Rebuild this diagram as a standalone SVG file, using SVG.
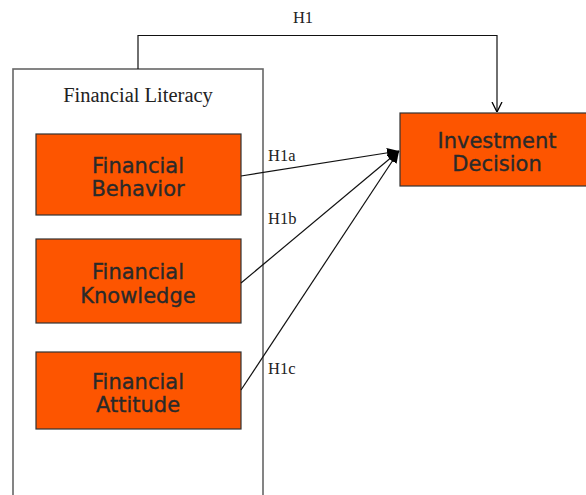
<svg xmlns="http://www.w3.org/2000/svg" width="586" height="495" viewBox="0 0 586 495">
  <defs>
    <marker id="solid" viewBox="0 0 12 10" refX="12" refY="5" markerWidth="12" markerHeight="10" markerUnits="userSpaceOnUse" orient="auto">
      <path d="M0,0 L12,5 L0,10 Z" fill="#000"/>
    </marker>
    <marker id="open" viewBox="0 0 10 12" refX="10" refY="6" markerWidth="10" markerHeight="12" markerUnits="userSpaceOnUse" orient="auto">
      <path d="M0,1 L10,6 L0,11" fill="none" stroke="#000" stroke-width="1.3"/>
    </marker>
    <style>
      .box { fill: #fd5500; stroke: #333; stroke-width: 1.2; }
      .boxtxt { font-family: "DejaVu Sans", "Noto Sans", sans-serif; font-size: 21px; fill: #2a2a2a; stroke: #2a2a2a; stroke-width: 0.35; text-anchor: middle; }
      .lbl { font-family: "Liberation Serif", "Times New Roman", serif; font-size: 16.5px; fill: #222; }
      .edge { fill: none; stroke: #111; stroke-width: 1.2; }
    </style>
  </defs>
  <rect width="586" height="495" fill="#fff"/>

  <!-- container -->
  <g id="financial-literacy">
    <rect x="13" y="69" width="250" height="440" fill="#fff" stroke="#666" stroke-width="1.6"/>
    <text x="138" y="102" class="lbl" style="font-size:20.5px" text-anchor="middle">Financial Literacy</text>
  </g>

  <g id="financial-behavior">
    <rect x="36" y="134" width="205" height="81" class="box"/>
    <text x="138" y="173" class="boxtxt">Financial</text>
    <text x="138" y="196" class="boxtxt">Behavior</text>
  </g>

  <g id="financial-knowledge">
    <rect x="36" y="239" width="205" height="84" class="box"/>
    <text x="138" y="279" class="boxtxt">Financial</text>
    <text x="138" y="303" class="boxtxt">Knowledge</text>
  </g>

  <g id="financial-attitude">
    <rect x="36" y="352" width="205" height="77" class="box"/>
    <text x="138" y="389" class="boxtxt">Financial</text>
    <text x="138" y="412" class="boxtxt">Attitude</text>
  </g>

  <g id="investment-decision">
    <rect x="400" y="113" width="190" height="73" class="box"/>
    <text x="497" y="148" class="boxtxt">Investment</text>
    <text x="497" y="171" class="boxtxt">Decision</text>
  </g>

  <g id="connectors">
    <path class="edge" d="M138,69 V35.5 H497 V112" marker-end="url(#open)"/>
    <line class="edge" x1="241" y1="176" x2="399" y2="151" marker-end="url(#solid)"/>
    <line class="edge" x1="241" y1="283" x2="399" y2="151" marker-end="url(#solid)"/>
    <line class="edge" x1="241" y1="390" x2="399" y2="151" marker-end="url(#solid)"/>
    <text x="303" y="23" class="lbl" text-anchor="middle">H1</text>
    <text x="268" y="161" class="lbl">H1a</text>
    <text x="268" y="224" class="lbl">H1b</text>
    <text x="268" y="374" class="lbl">H1c</text>
  </g>
</svg>
